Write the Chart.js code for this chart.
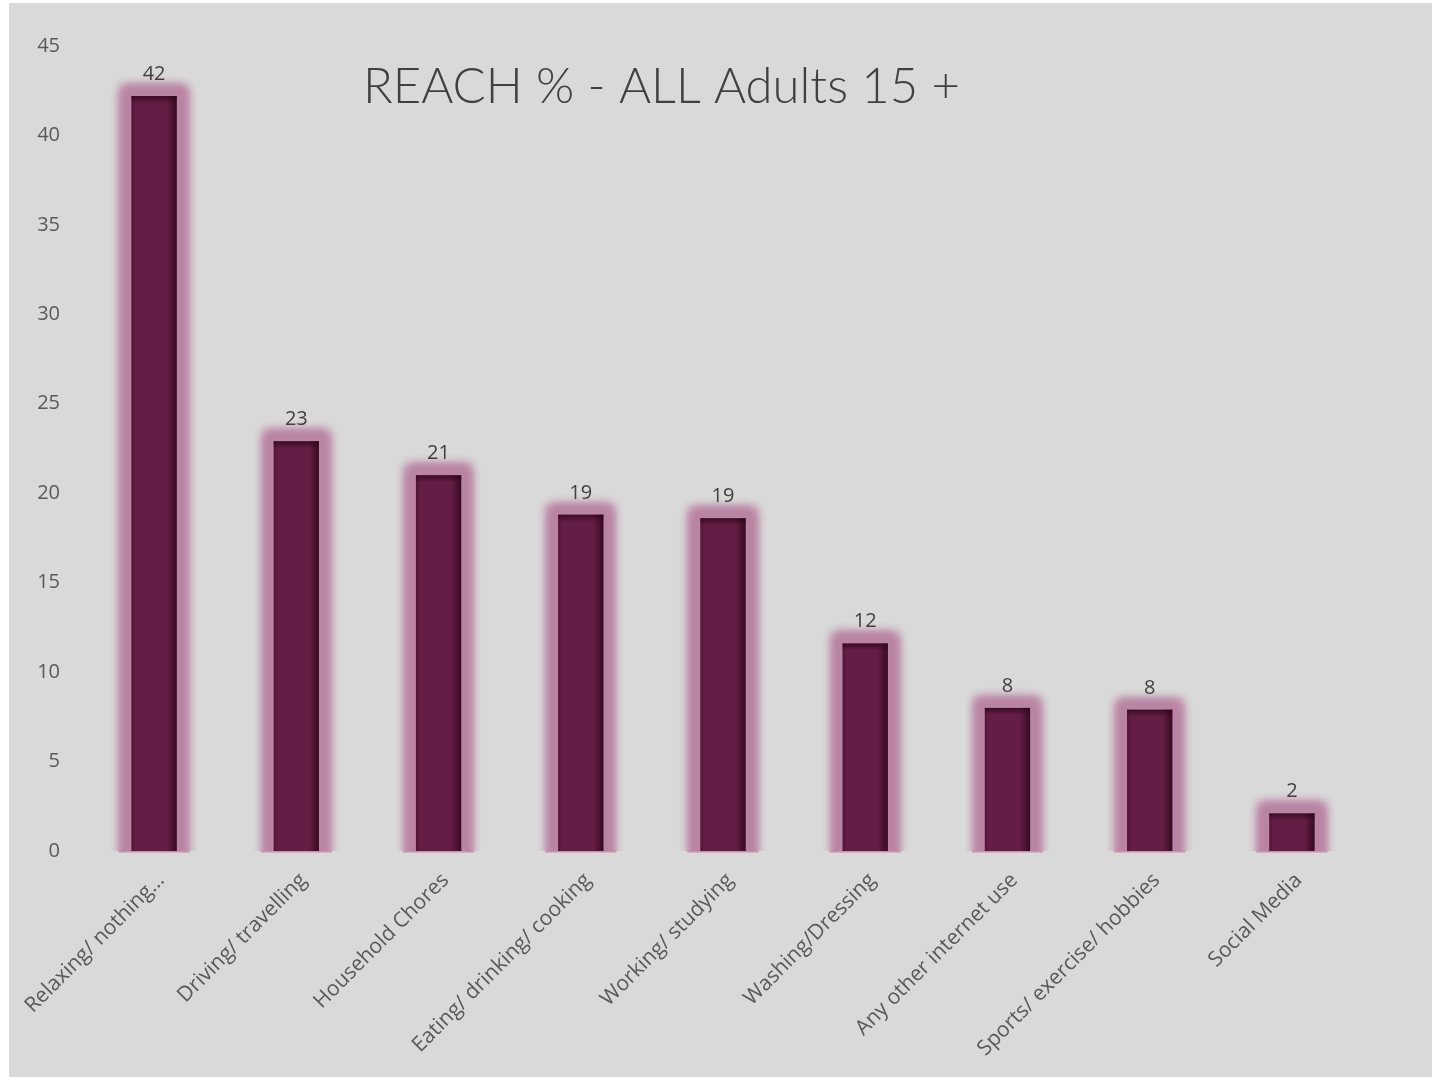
<!DOCTYPE html>
<html>
<head>
<meta charset="utf-8">
<script src="https://cdn.jsdelivr.net/npm/chart.js@4"></script>
<style>
html,body{margin:0;padding:0;background:#ffffff;}
#wrap{position:absolute;left:9px;top:3px;width:1423px;height:1074px;background:#d9d9d9;}
canvas{display:block;}
</style>
</head>
<body>
<div id="wrap"><canvas id="c" width="1423" height="1074"></canvas></div>
<script>
const categories = ["Relaxing/ nothing…","Driving/ travelling","Household Chores","Eating/ drinking/ cooking","Working/ studying","Washing/Dressing","Any other internet use","Sports/ exercise/ hobbies","Social Media"];
const reach = [42.2, 22.9, 21.0, 18.8, 18.6, 11.6, 8.0, 7.9, 2.1];
const yTicks = [0,5,10,15,20,25,30,35,40,45];
const titleText = "REACH % - ALL Adults 15 +";

const glowPlugin = {
  id:'glow',
  beforeDatasetDraw(chart, args){
    const ctx = chart.ctx, meta = args.meta;
    const ca = chart.chartArea;
    ctx.save();
    ctx.beginPath(); ctx.rect(ca.left, ca.top - 30, ca.right - ca.left, ca.bottom - ca.top + 30); ctx.clip();
    const off = 5000;
    meta.data.forEach(el => {
      const p = el.getProps(['x','y','base','width'], true);
      const g = 9;
      ctx.shadowColor = 'rgba(186,132,164,1)';
      ctx.shadowBlur = 10;
      ctx.shadowOffsetX = off;
      ctx.fillStyle = '#000';
      for (let k = 0; k < 3; k++) {
        ctx.fillRect(p.x - p.width/2 - g - off, p.y - g, p.width + 2*g, p.base - p.y + g + 20);
      }
    });
    ctx.restore();
  },
  afterDatasetDraw(chart, args){
    const ctx = chart.ctx, meta = args.meta;
    ctx.save();
    meta.data.forEach((el,i) => {
      const p = el.getProps(['x','y','base','width'], true);
      const l = p.x - p.width/2, r = p.x + p.width/2;
      let gr = ctx.createLinearGradient(r - 10, 0, r, 0);
      gr.addColorStop(0,'rgba(40,5,22,0)');
      gr.addColorStop(1,'rgba(40,5,22,0.75)');
      ctx.fillStyle = gr; ctx.fillRect(r - 10, p.y, 10, p.base - p.y);
      gr = ctx.createLinearGradient(l, 0, l + 4, 0);
      gr.addColorStop(0,'rgba(40,5,22,0.35)');
      gr.addColorStop(1,'rgba(40,5,22,0)');
      ctx.fillStyle = gr; ctx.fillRect(l, p.y, 4, p.base - p.y);
      gr = ctx.createLinearGradient(0, p.y, 0, p.y + 7);
      gr.addColorStop(0,'rgba(40,5,22,0.7)');
      gr.addColorStop(1,'rgba(40,5,22,0)');
      ctx.fillStyle = gr; ctx.fillRect(l, p.y, p.width, 7);
      ctx.fillStyle = 'rgba(200,130,165,0.85)';
      ctx.fillRect(l - 13, p.base, p.width + 26, 1.5);
      ctx.fillStyle = '#404040';
      ctx.font = '20px "Open Sans", sans-serif';
      ctx.textAlign = 'center';
      ctx.textBaseline = 'alphabetic';
      ctx.fillText(String(Math.round(reach[i])), p.x, p.y - 16);
    });
    ctx.restore();
  },
  afterDraw(chart){
    const ctx = chart.ctx;
    ctx.save();
    ctx.fillStyle = '#404040';
    let fs = 46;
    ctx.font = '300 ' + fs + 'px "Lato", "DejaVu Sans", sans-serif';
    const w = ctx.measureText(titleText).width;
    fs = fs * 597 / w;
    ctx.font = '300 ' + fs + 'px "Lato", "DejaVu Sans", sans-serif';
    ctx.textAlign = 'left';
    ctx.textBaseline = 'alphabetic';
    ctx.fillText(titleText, 354, 100);
    ctx.restore();
  }
};

new Chart(document.getElementById('c'), {
  type:'bar',
  data:{
    labels:categories,
    datasets:[{
      data:reach,
      backgroundColor:'#641d44',
      borderWidth:0,
      barPercentage:0.318,
      categoryPercentage:1.0
    }]
  },
  options:{
    responsive:false,
    animation:false,
    events:[],
    layout:{padding:{top:43,right:69,left:0,bottom:0}},
    plugins:{legend:{display:false},tooltip:{enabled:false},title:{display:false}},
    scales:{
      x:{
        grid:{display:false,drawTicks:false},
        border:{display:false},
        ticks:{color:'#595959',font:{family:'"Open Sans", sans-serif',size:21},maxRotation:45,minRotation:45,padding:17,labelOffset:7,autoSkip:false},
        afterFit(s){ s.height = 226; s.paddingLeft = 0; s.paddingRight = 0; }
      },
      y:{
        min:0,max:45,
        grid:{display:false,drawTicks:false},
        border:{display:false},
        afterBuildTicks(s){ s.ticks = yTicks.map(v=>({value:v})); },
        ticks:{color:'#595959',font:{family:'"Open Sans", sans-serif',size:20},padding:23},
        afterFit(s){ s.width = 74; s.paddingTop = 0; s.paddingBottom = 0; }
      }
    }
  },
  plugins:[glowPlugin]
});
</script>
</body>
</html>
